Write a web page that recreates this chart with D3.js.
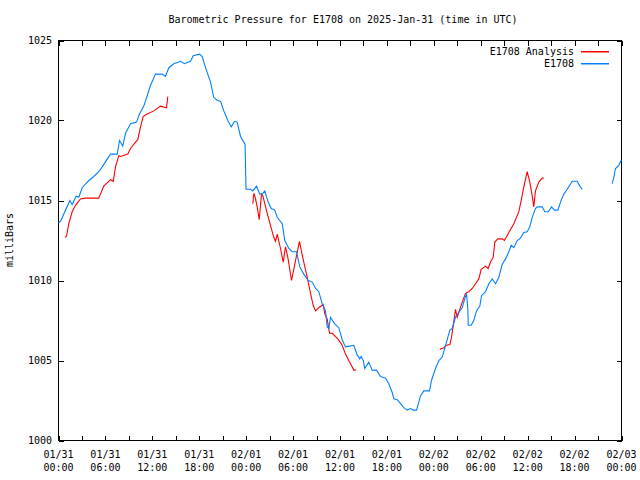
<!DOCTYPE html>
<html><head><meta charset="utf-8">
<script src="https://cdn.jsdelivr.net/npm/d3@7/dist/d3.min.js"></script>
<style>body{margin:0;background:#fff}svg{display:block}text{font-family:"DejaVu Sans Mono",monospace;font-size:10px;fill:#000}</style>
</head><body><div id="chart"></div>
<script>
// hours since 2025-01-31 00:00 UTC; null = gap
const stationHours = [0,0.26,1.45,1.75,2.26,2.6,3.03,3.88,4.51,5.15,5.59,6.65,7.51,7.8,8.22,8.57,9.21,9.98,10.36,10.91,11.77,12.41,13.26,13.68,14.11,14.75,15.6,16.11,16.88,17.23,18.03,18.38,18.8,19.44,19.86,20.3,20.72,21.14,21.65,22.09,22.51,22.85,23.28,23.7,23.86,23.98,24.55,24.85,25.32,25.74,26.05,26.38,26.82,27.2,27.66,27.97,28.61,28.94,29.45,29.89,30.44,30.86,31.37,31.93,32.45,32.87,33.29,33.72,34.15,34.36,34.57,34.79,35.3,35.85,36.28,36.7,37.25,37.77,38.2,38.53,38.71,38.97,39.17,39.68,40.12,40.67,41.18,41.82,42.24,42.68,42.88,43.32,43.74,44.16,44.6,45.02,45.44,45.79,46.08,46.3,46.72,47.45,47.7,48.21,48.64,49.07,49.62,50.05,50.35,50.77,51.19,51.63,51.83,52.18,52.35,52.4,52.78,53.11,53.46,53.88,54.1,54.61,55.03,55.47,55.89,56.31,56.74,57.17,57.59,57.9,58.23,58.66,59.08,59.51,59.94,60.27,60.58,61.0,61.22,61.86,62.19,62.63,63.05,63.43,63.86,64.2,64.62,65.06,65.7,66.34,66.67,66.98,68.9,70.81,71.02,71.23,71.66,72.0];
const stationPress = [1013.6,1013.7,1015.0,1014.75,1015.27,1015.2,1015.8,1016.25,1016.5,1016.8,1017.1,1017.9,1017.9,1018.75,1018.4,1019.2,1019.8,1019.9,1020.4,1020.9,1022.2,1022.9,1022.9,1022.75,1023.3,1023.55,1023.7,1023.55,1023.7,1024.05,1024.15,1024.0,1023.3,1022.4,1021.45,1021.25,1021.2,1020.6,1020.0,1019.6,1019.95,1019.9,1019.0,1018.65,1018.5,1015.7,1015.7,1015.6,1015.9,1015.4,1015.4,1015.6,1014.9,1014.5,1014.4,1013.95,1013.55,1012.5,1012.0,1011.8,1011.8,1010.85,1010.4,1010.0,1009.9,1009.5,1009.3,1008.55,1008.1,1007.1,1007.0,1007.7,1007.3,1007.05,1006.3,1005.85,1005.9,1005.95,1005.35,1005.1,1005.25,1005.0,1004.5,1004.9,1004.4,1004.4,1004.0,1003.9,1003.55,1003.0,1002.6,1002.55,1002.3,1002.05,1001.9,1002.0,1001.9,1001.9,1002.4,1002.8,1003.1,1003.1,1003.75,1004.5,1005.0,1005.2,1006.15,1006.9,1007.0,1007.7,1008.0,1008.3,1008.65,1009.2,1008.2,1007.2,1007.2,1007.5,1008.1,1008.4,1009.05,1009.3,1009.8,1010.1,1009.8,1010.2,1011.0,1011.35,1011.8,1012.2,1012.05,1012.5,1012.65,1013.0,1013.05,1013.35,1013.95,1014.5,1014.6,1014.6,1014.3,1014.3,1014.6,1014.4,1014.4,1014.9,1015.4,1015.7,1016.2,1016.2,1015.9,1015.7,null,1016.05,1016.45,1017.0,1017.2,1017.55];
const analysisHours = [0.81,1.02,1.32,1.75,2.17,2.81,3.45,5.15,5.79,6.65,7.0,7.29,7.71,7.93,8.86,9.21,9.85,10.14,10.49,10.83,11.34,12.19,13.04,13.39,13.81,13.98,19.0,24.85,24.98,25.16,25.41,25.67,25.74,25.96,26.13,26.69,27.11,27.53,27.75,27.97,28.39,28.74,29.03,29.33,29.8,30.09,30.44,30.82,31.08,31.46,31.81,32.23,32.57,32.87,33.29,33.85,34.06,34.36,34.66,35.0,35.72,36.28,36.7,37.34,37.77,38.07,43.0,48.76,49.28,49.62,50.05,50.26,50.48,50.77,50.99,51.32,51.63,52.05,52.47,52.91,53.33,53.75,54.06,54.61,54.95,55.25,55.59,55.8,56.18,56.74,57.04,57.59,58.23,58.87,59.21,59.6,59.94,60.27,60.58,60.78,61.0,61.43,61.86,62.06];
const analysisPress = [1012.7,1012.75,1013.55,1014.3,1014.7,1015.1,1015.15,1015.15,1015.9,1016.3,1016.2,1017.1,1017.8,1017.75,1017.9,1018.25,1018.65,1018.8,1019.6,1020.25,1020.4,1020.6,1020.9,1020.85,1020.8,1021.5,null,1014.8,1015.45,1015.2,1014.6,1013.8,1014.2,1015.4,1015.3,1014.2,1013.45,1012.7,1012.45,1012.9,1012.0,1011.15,1012.1,1011.45,1010.0,1010.7,1011.55,1012.45,1011.8,1010.95,1010.2,1009.2,1008.45,1008.1,1008.3,1008.5,1007.9,1007.6,1006.7,1006.7,1006.35,1005.95,1005.4,1004.8,1004.4,1004.4,null,1005.7,1005.8,1005.95,1006.0,1006.45,1007.2,1008.2,1007.7,1008.2,1008.65,1009.2,1009.3,1009.5,1009.8,1010.1,1010.7,1010.9,1010.75,1011.15,1011.45,1012.4,1012.6,1012.6,1012.5,1013.0,1013.55,1014.3,1015.1,1016.05,1016.8,1016.15,1015.3,1014.6,1015.6,1016.15,1016.4,1016.4];
const yTicks = [1000,1005,1010,1015,1020,1025];
const xMajorTicks = [0,6,12,18,24,30,36,42,48,54,60,66,72];
const xMinorTicks = [3,9,15,21,27,33,39,45,51,57,63,69];
const xTickDates = ["01/31","01/31","01/31","01/31","02/01","02/01","02/01","02/01","02/02","02/02","02/02","02/02","02/03"];
const xTickTimes = ["00:00","06:00","12:00","18:00","00:00","06:00","12:00","18:00","00:00","06:00","12:00","18:00","00:00"];
const seriesNames = ["E1708 Analysis","E1708"];
const seriesColors = ["#ff0000","#0080ff"];
const titleText = "Barometric Pressure for E1708 on 2025-Jan-31 (time in UTC)";
const yLabel = "milliBars";

const W=640,H=480, L=58.5, R=621.5, T=40.5, B=440.5;
const svg=d3.select("#chart").append("svg").attr("width",W).attr("height",H);
const x=d3.scaleLinear().domain([0,72]).range([L,R]);
const y=d3.scaleLinear().domain([1000,1025]).range([B,T]);

svg.append("text").attr("x",343).attr("y",23).attr("text-anchor","middle").text(titleText);
svg.append("text").attr("transform","translate(13,240) rotate(-90)").attr("text-anchor","middle").text(yLabel);

const g=svg.append("g").attr("shape-rendering","crispEdges");
const allX=xMajorTicks.concat(xMinorTicks);
const tl=5;
g.selectAll(".xb").data(allX).enter().append("line")
 .attr("x1",d=>Math.round(x(d))+0.5).attr("x2",d=>Math.round(x(d))+0.5).attr("y1",B).attr("y2",B-tl).attr("stroke","#000");
g.selectAll(".xt").data(allX).enter().append("line")
 .attr("x1",d=>Math.round(x(d))+0.5).attr("x2",d=>Math.round(x(d))+0.5).attr("y1",T).attr("y2",T+tl).attr("stroke","#000");
g.selectAll(".yl").data(yTicks).enter().append("line")
 .attr("x1",L).attr("x2",L+tl).attr("y1",d=>Math.round(y(d))+0.5).attr("y2",d=>Math.round(y(d))+0.5).attr("stroke","#000");
g.selectAll(".yr").data(yTicks).enter().append("line")
 .attr("x1",R).attr("x2",R-tl).attr("y1",d=>Math.round(y(d))+0.5).attr("y2",d=>Math.round(y(d))+0.5).attr("stroke","#000");

svg.selectAll(".ylab").data(yTicks).enter().append("text")
 .attr("x",52).attr("y",d=>y(d)+3.5).attr("text-anchor","end").text(d=>d);
const xl=svg.selectAll(".xlab").data(xMajorTicks).enter().append("text")
 .attr("text-anchor","middle");
xl.append("tspan").attr("x",d=>x(d)).attr("y",458).text((d,i)=>xTickDates[i]);
xl.append("tspan").attr("x",d=>x(d)).attr("y",471).text((d,i)=>xTickTimes[i]);

const line=d3.line().defined(d=>d[1]!==null).x(d=>x(d[0])).y(d=>y(d[1]));
const red=analysisHours.map((h,i)=>[h,analysisPress[i]]);
const blue=stationHours.map((h,i)=>[h,stationPress[i]]);
svg.append("path").datum(red).attr("d",line).attr("fill","none").attr("stroke",seriesColors[0]).attr("stroke-width",1.1);
svg.append("path").datum(blue).attr("d",line).attr("fill","none").attr("stroke",seriesColors[1]).attr("stroke-width",1.1);

// legend
seriesNames.forEach((n,i)=>{
  const yy=51+i*12;
  svg.append("text").attr("x",574).attr("y",yy+4).attr("text-anchor","end").text(n);
  svg.append("rect").attr("x",581).attr("y",yy).attr("width",28).attr("height",1.5).attr("fill",seriesColors[i]);
});

g.append("rect").attr("x",L).attr("y",T).attr("width",R-L).attr("height",B-T).attr("fill","none").attr("stroke","#000");
</script></body></html>
